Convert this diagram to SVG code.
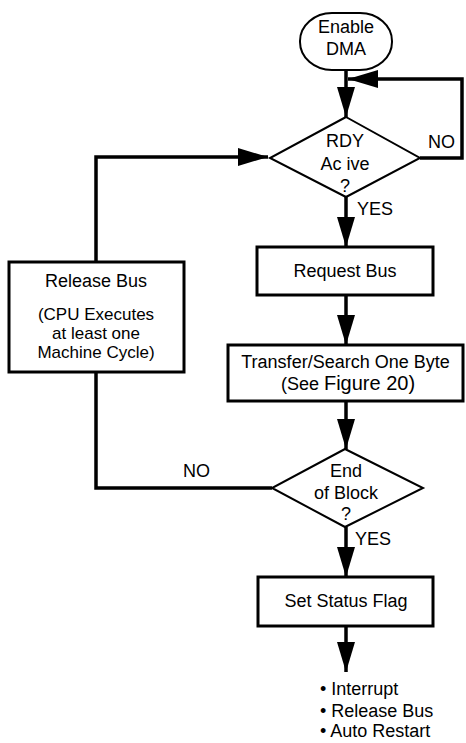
<svg xmlns="http://www.w3.org/2000/svg" width="466" height="743" viewBox="0 0 466 743">
<style>
text{font-family:"Liberation Sans",Arial,sans-serif;font-size:18px;fill:#000}
.c{text-anchor:middle}
.s{font-size:17px}
.box{fill:#fff;stroke:#000;stroke-width:3}
.dia{fill:#fff;stroke:#000;stroke-width:2}
.ln{fill:none;stroke:#000;stroke-width:3.5}
</style>
<defs>
<marker id="arr" markerUnits="userSpaceOnUse" markerWidth="30" markerHeight="18" refX="30" refY="9" orient="auto">
<path d="M0,0 L30,9 L0,18 z" fill="#000"/>
</marker>
</defs>
<rect width="466" height="743" fill="#fff"/>
<g id="connectors">
<path class="ln" d="M346,70 V117" marker-end="url(#arr)"/>
<path class="ln" d="M420,158 H462 V79 H348" marker-end="url(#arr)"/>
<path class="ln" d="M346,197 V247" marker-end="url(#arr)"/>
<path class="ln" d="M346,295 V345" marker-end="url(#arr)"/>
<path class="ln" d="M346,401 V449" marker-end="url(#arr)"/>
<path class="ln" d="M272,488 H96 V372"/>
<path class="ln" d="M96,262 V157 H268" marker-end="url(#arr)"/>
<path class="ln" d="M346,527 V577" marker-end="url(#arr)"/>
<path class="ln" d="M346,626 V672" marker-end="url(#arr)"/>
<text x="428" y="148">NO</text>
<text x="357" y="215">YES</text>
<text x="183" y="477">NO</text>
<text x="355" y="545">YES</text>
</g>
<g id="enable">
<rect x="300" y="13" width="92" height="57" rx="32" ry="28" fill="#fff" stroke="#000" stroke-width="2"/>
<text class="c" x="346" y="33">Enable</text>
<text class="c" x="346" y="55">DMA</text>
</g>
<g id="rdy">
<polygon class="dia" points="346,117 420,158 346,197 270,158"/>
<text class="c" x="345" y="147">RDY</text>
<text class="c" x="345" y="170">Ac ive</text>
<text class="c" x="345" y="192">?</text>
</g>
<g id="request">
<rect class="box" x="257" y="247" width="176" height="48"/>
<text class="c" x="345" y="277">Request Bus</text>
</g>
<g id="transfer">
<rect class="box" x="228" y="345" width="235" height="56"/>
<text class="c" x="345.5" y="368">Transfer/Search One Byte</text>
<text class="c" x="348" y="390">(See <tspan font-size="20">Figure 20)</tspan></text>
</g>
<g id="endblock">
<polygon class="dia" points="345,449 423,488 345,527 272,488"/>
<text class="c" x="346" y="477">End</text>
<text class="c" x="346" y="499">of Block</text>
<text class="c" x="346" y="520">?</text>
</g>
<g id="release">
<rect class="box" x="9" y="262" width="175" height="110"/>
<text class="c" x="96" y="287">Release Bus</text>
<text class="c s" x="96" y="320">(CPU Executes</text>
<text class="c s" x="96" y="339">at least one</text>
<text class="c s" x="96" y="358">Machine Cycle)</text>
</g>
<g id="status">
<rect class="box" x="258" y="577" width="175" height="49"/>
<text class="c" x="346" y="607">Set Status Flag</text>
</g>
<g id="outcomes">
<text x="320" y="695">• Interrupt</text>
<text x="320" y="717">• Release Bus</text>
<text x="320" y="737">• Auto Restart</text>
</g>
</svg>
